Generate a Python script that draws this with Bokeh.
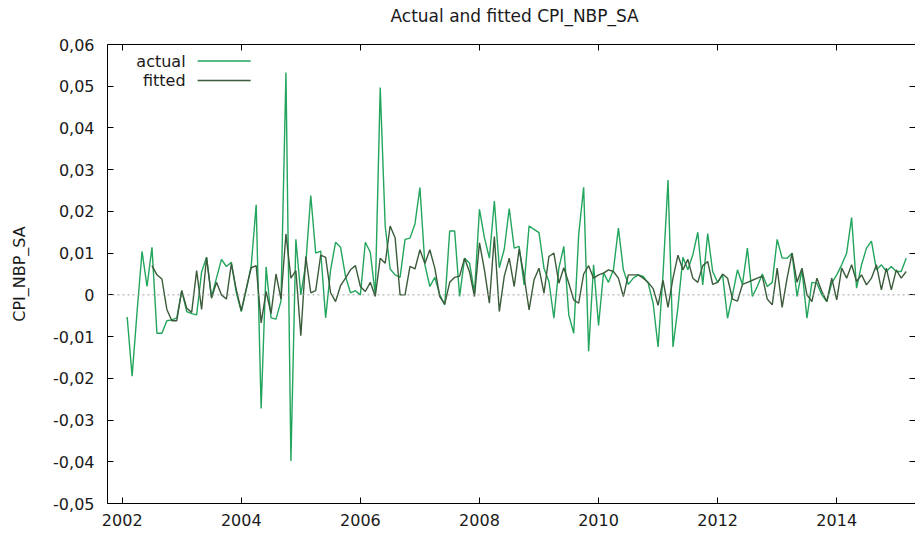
import numpy as np
from bokeh.plotting import figure
from bokeh.models import (ColumnDataSource, FixedTicker, CustomJSTickFormatter,
                          LinearAxis, Span, Label, Arrow, Range1d, Title)
from bokeh.embed import file_html
from bokeh.resources import INLINE

# ---------------- data ----------------
title_text = "Actual and fitted CPI_NBP_SA"
y_label = "CPI_NBP_SA"
series_names = ["actual", "fitted"]
start_year = 2002
start_month = 2          # first observation: 2002:02 (monthly)

x_ticks = [2002, 2004, 2006, 2008, 2010, 2012, 2014]
y_ticks = [-0.05, -0.04, -0.03, -0.02, -0.01, 0.0, 0.01, 0.02, 0.03, 0.04, 0.05, 0.06]
y_tick_labels = ["-0,05", "-0,04", "-0,03", "-0,02", "-0,01", "0",
                 "0,01", "0,02", "0,03", "0,04", "0,05", "0,06"]

actual = [
    -0.0053, -0.0195, -0.0040, 0.0104, 0.0020, 0.0114, -0.0092, -0.0092, -0.0062, -0.0060, -0.0055,   # 2002
    0.0010, -0.0040, -0.0045, -0.0048, 0.0055, 0.0090, -0.0005, 0.0040, 0.0085, 0.0068, 0.0078, 0.0005,  # 2003
    -0.0040, 0.0012, 0.0070, 0.0216, -0.0272, 0.0067, -0.0055, -0.0058, -0.0015, 0.0533, -0.0398, 0.0133,  # 2004
    0.0000, 0.0075, 0.0238, 0.0100, 0.0105, -0.0055, 0.0060, 0.0126, 0.0114, 0.0045, 0.0005, 0.0010,  # 2005
    0.0000, 0.0126, 0.0102, 0.0000, 0.0497, 0.0165, 0.0062, 0.0048, 0.0042, 0.0133, 0.0136, 0.0170,  # 2006
    0.0257, 0.0072, 0.0020, 0.0042, 0.0000, -0.0024, 0.0153, 0.0153, -0.0004, 0.0088, 0.0076, 0.0005,  # 2007
    0.0205, 0.0137, 0.0088, 0.0225, 0.0065, 0.0110, 0.0207, 0.0112, 0.0116, 0.0024, 0.0165, 0.0157,  # 2008
    0.0149, 0.0064, 0.0032, -0.0056, 0.0064, 0.0116, -0.0048, -0.0092, 0.0145, 0.0258, -0.0135, 0.0072,  # 2009
    -0.0073, 0.0053, 0.0030, 0.0060, 0.0160, 0.0060, 0.0025, 0.0040, 0.0048, 0.0044, 0.0028, -0.0020,  # 2010
    -0.0125, 0.0050, 0.0275, -0.0125, -0.0030, 0.0090, 0.0060, 0.0096, 0.0150, 0.0024, 0.0147, 0.0056,  # 2011
    0.0030, 0.0048, -0.0056, 0.0000, 0.0060, 0.0025, 0.0112, -0.0004, 0.0020, 0.0050, 0.0020, 0.0030,  # 2012
    0.0133, 0.0088, 0.0088, 0.0100, -0.0004, 0.0060, -0.0056, 0.0030, 0.0028, 0.0000, -0.0016, 0.0028,  # 2013
    0.0048, 0.0072, 0.0100, 0.0185, 0.0016, 0.0072, 0.0112, 0.0129, 0.0060, 0.0072, 0.0056, 0.0068,  # 2014
    0.0056, 0.0056, 0.0088,  # 2015
]

nan = float("nan")
fitted = [
    nan, nan, nan, nan, nan, 0.0070, 0.0048, 0.0038, -0.0035, -0.0062, -0.0062,   # 2002
    0.0010, -0.0032, -0.0042, 0.0058, -0.0035, 0.0090, -0.0008, 0.0030, 0.0000, -0.0010, 0.0075, 0.0012,  # 2003
    -0.0038, 0.0015, 0.0065, 0.0070, -0.0067, 0.0008, -0.0045, 0.0050, -0.0010, 0.0146, 0.0040, 0.0058,  # 2004
    -0.0098, 0.0092, 0.0005, 0.0010, 0.0095, 0.0090, 0.0005, -0.0016, 0.0022, 0.0040, 0.0060, 0.0070,  # 2005
    0.0020, 0.0008, 0.0030, -0.0004, 0.0088, 0.0076, 0.0165, 0.0137, 0.0000, 0.0000, 0.0068, 0.0062,  # 2006
    0.0108, 0.0075, 0.0108, 0.0064, -0.0004, -0.0022, 0.0030, 0.0042, 0.0045, 0.0088, 0.0055, -0.0004,  # 2007
    0.0125, 0.0060, -0.0020, 0.0140, -0.0040, 0.0045, 0.0088, 0.0020, 0.0110, 0.0044, -0.0036, 0.0036,  # 2008
    0.0064, 0.0004, 0.0092, 0.0100, 0.0028, 0.0065, 0.0028, -0.0012, -0.0020, 0.0050, 0.0070, 0.0040,  # 2009
    0.0048, 0.0052, 0.0060, 0.0056, 0.0040, -0.0004, 0.0048, 0.0048, 0.0048, 0.0040, 0.0030, 0.0015,  # 2010
    -0.0025, 0.0035, -0.0030, 0.0040, 0.0095, 0.0060, 0.0085, 0.0040, 0.0030, 0.0070, 0.0080, 0.0025,  # 2011
    0.0030, 0.0050, 0.0040, -0.0010, -0.0015, 0.0025, 0.0030, 0.0035, 0.0040, 0.0045, -0.0010, -0.0024,  # 2012
    0.0064, -0.0030, 0.0040, 0.0100, 0.0030, 0.0064, 0.0000, -0.0016, 0.0040, 0.0008, -0.0016, 0.0040,  # 2013
    -0.0012, 0.0064, 0.0040, 0.0072, 0.0032, 0.0048, 0.0024, 0.0040, 0.0072, 0.0012, 0.0064, 0.0012,  # 2014
    0.0060, 0.0040, 0.0056,  # 2015
]

# ---------------- style ----------------
FONT = "DejaVu Sans"
FS = "16px"
C_ACTUAL = "#22a55c"
C_FITTED = "#3b5b3b"

n = len(actual)
t = start_year + (start_month - 1 + np.arange(n)) / 12.0
src = ColumnDataSource(dict(t=t, actual=np.array(actual), fitted=np.array(fitted)))

X0, X1 = 2001.753, 2015.323
Y0, Y1 = -0.05, 0.06

p = figure(width=915, height=537, x_range=Range1d(X0, X1), y_range=Range1d(Y0, Y1),
           output_backend="svg", toolbar_location=None, title=title_text,
           min_border_left=107, min_border_right=0, min_border_top=44, min_border_bottom=34)
p.background_fill_color = "white"
p.border_fill_color = "white"
p.outline_line_color = None
p.grid.visible = False

p.title.align = "left"
p.title.offset = 283
p.title.text_font = FONT
p.title.text_font_size = "17px"
p.title.text_font_style = "normal"
p.title.text_color = "#1a1a1a"
p.title.standoff = 6

def style_axis(ax):
    ax.major_tick_in = 6
    ax.major_tick_out = 0
    ax.minor_tick_line_color = None
    ax.axis_line_color = "black"
    ax.major_tick_line_color = "black"
    ax.major_label_text_font = FONT
    ax.major_label_text_font_size = FS
    ax.major_label_text_color = "#1a1a1a"

xa = p.xaxis[0]
style_axis(xa)
xa.ticker = FixedTicker(ticks=x_ticks, minor_ticks=[])
xa.major_label_standoff = 10

ya = p.yaxis[0]
style_axis(ya)
ya.ticker = FixedTicker(ticks=y_ticks, minor_ticks=[])
ya.formatter = CustomJSTickFormatter(args=dict(yt=y_ticks, yl=y_tick_labels), code="""
let best = 0, d = Infinity;
for (let i = 0; i < yt.length; i++) {
  const e = Math.abs(yt[i] - tick);
  if (e < d) { d = e; best = i; }
}
return yl[best];
""")
ya.major_label_standoff = 13
ya.axis_label = y_label
ya.axis_label_text_font = FONT
ya.axis_label_text_font_size = FS
ya.axis_label_text_font_style = "normal"
ya.axis_label_text_color = "#1a1a1a"
ya.axis_label_standoff = 21

top = LinearAxis(ticker=FixedTicker(ticks=x_ticks, minor_ticks=[]),
                 formatter=CustomJSTickFormatter(code="return '';"))
style_axis(top)
top.major_label_text_font_size = "0px"
top.major_label_standoff = 0
p.add_layout(top, "above")

# empty spacer between the top frame and the title (keeps the title near the top edge)
p.add_layout(Title(text=" ", text_font_size="2px", standoff=12), "above")

right = LinearAxis(ticker=FixedTicker(ticks=y_ticks, minor_ticks=[]),
                   formatter=CustomJSTickFormatter(code="return '';"))
style_axis(right)
right.axis_line_color = None
right.major_label_text_font_size = "0px"
right.major_label_standoff = 0
p.add_layout(right, "right")

# zero line
p.add_layout(Span(location=0, dimension="width", line_color="#a0a0a0",
                  line_dash="2 3", line_width=1))

# series
p.line("t", "actual", source=src, line_color=C_ACTUAL, line_width=1.4)
p.line("t", "fitted", source=src, line_color=C_FITTED, line_width=1.4)

# legend (gretl style: label left, sample line right), placed in pixel terms
FR_L, FR_R, FR_T, FR_B = 107, 914, 44, 503
def dx(px):
    return X0 + (px - FR_L) * (X1 - X0) / (FR_R - FR_L)
def dy(py):
    return Y1 - (py - FR_T) * (Y1 - Y0) / (FR_B - FR_T)

for k, (name, col) in enumerate(zip(series_names, [C_ACTUAL, C_FITTED])):
    yy = 60.5 + k * 19.5
    p.add_layout(Label(x=dx(185), y=dy(yy), text=name, text_align="right",
                       text_baseline="middle", text_font=FONT, text_font_size=FS,
                       text_color="#1a1a1a"))
    p.add_layout(Arrow(x_start=dx(197), y_start=dy(yy), x_end=dx(250), y_end=dy(yy),
                       start=None, end=None, line_color=col, line_width=1.4))

open("out.html", "w").write(file_html(p, INLINE))
